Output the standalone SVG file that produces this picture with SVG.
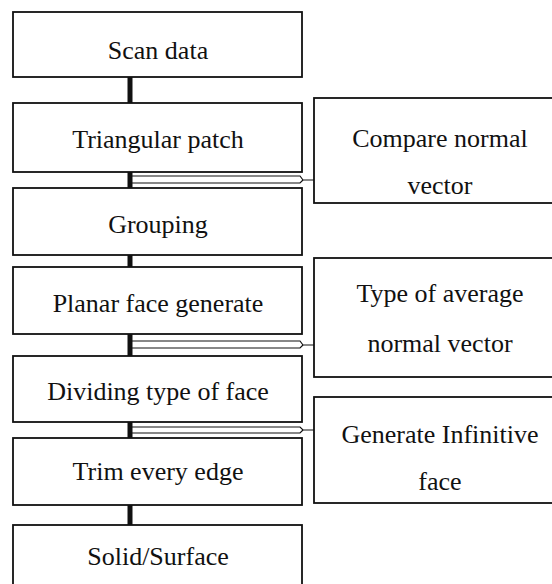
<svg xmlns="http://www.w3.org/2000/svg" width="552" height="584" viewBox="0 0 552 584">
<style>
.box{fill:#fff;stroke:#111;stroke-width:1.8}
.t{font-family:"Liberation Serif","Times New Roman",serif;font-size:26px;fill:#111;text-anchor:middle}
.thick{stroke:#111;stroke-width:5}
.thin{stroke:#111;stroke-width:1.2;fill:none}
</style>
<rect width="552" height="584" fill="#fff"/>
<g id="connectors">
<line class="thick" x1="130" y1="77" x2="130" y2="103"/>
<line class="thick" x1="130" y1="172" x2="130" y2="188"/>
<line class="thick" x1="130" y1="255" x2="130" y2="267"/>
<line class="thick" x1="130" y1="334" x2="130" y2="356"/>
<line class="thick" x1="130" y1="422" x2="130" y2="438"/>
<line class="thick" x1="130" y1="505" x2="130" y2="525"/>
<polyline class="thin" points="132,176 300,176 303,180 314,180"/>
<polyline class="thin" points="132,183 300,183 303,180"/>
<polyline class="thin" points="132,341 300,341 303,345 314,345"/>
<polyline class="thin" points="132,348 300,348 303,345"/>
<polyline class="thin" points="132,427 300,427 303,430 314,430"/>
<polyline class="thin" points="132,433 300,433 303,430"/>
</g>
<g id="scan">
<rect class="box" x="13" y="12" width="289" height="65"/>
<text class="t" x="158" y="59">Scan data</text>
</g>
<g id="triangular">
<rect class="box" x="13" y="103" width="289" height="69"/>
<text class="t" x="158" y="148">Triangular patch</text>
</g>
<g id="grouping">
<rect class="box" x="13" y="188" width="289" height="67"/>
<text class="t" x="158" y="233">Grouping</text>
</g>
<g id="planar">
<rect class="box" x="13" y="267" width="289" height="67"/>
<text class="t" x="158" y="312">Planar face generate</text>
</g>
<g id="dividing">
<rect class="box" x="13" y="356" width="289" height="66"/>
<text class="t" x="158" y="400">Dividing type of face</text>
</g>
<g id="trim">
<rect class="box" x="13" y="438" width="289" height="67"/>
<text class="t" x="158" y="480">Trim every edge</text>
</g>
<g id="solid">
<rect class="box" x="13" y="525" width="289" height="70"/>
<text class="t" x="158" y="565">Solid/Surface</text>
</g>
<g id="compare">
<rect class="box" x="314" y="98" width="253" height="105"/>
<text class="t" x="440" y="147">Compare normal</text>
<text class="t" x="440" y="194">vector</text>
</g>
<g id="average">
<rect class="box" x="314" y="258" width="253" height="119"/>
<text class="t" x="440" y="302">Type of average</text>
<text class="t" x="440" y="352">normal vector</text>
</g>
<g id="infinitive">
<rect class="box" x="314" y="397" width="253" height="106"/>
<text class="t" x="440" y="443">Generate Infinitive</text>
<text class="t" x="440" y="490">face</text>
</g>
</svg>
